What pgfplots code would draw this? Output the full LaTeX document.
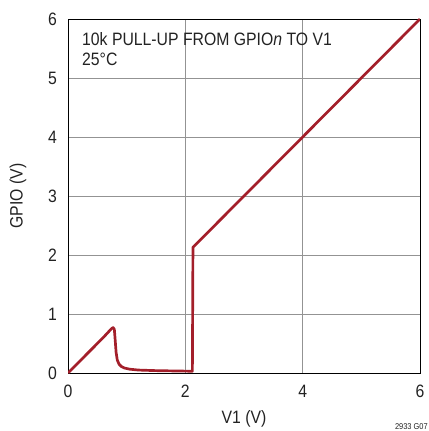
\documentclass[border=0pt]{standalone}
\usepackage{fontspec}
\setmainfont{Liberation Sans}[FakeStretch=0.88]
\usepackage{pgfplots}
\pgfplotsset{compat=1.18}
\definecolor{curve}{HTML}{A31F2A}
\definecolor{txt}{HTML}{222222}
\begin{document}
\begin{tikzpicture}[x=1bp,y=1bp]
\begin{axis}[
  name=ax,
  scale only axis,
  width=352bp, height=354bp,
  xmin=0, xmax=6, ymin=0, ymax=6,
  xtick={0,2,4,6}, ytick={0,1,2,3,4,5,6},
  grid=major,
  major grid style={draw=gray!85, line width=0.8pt},
  major tick length=0pt,
  axis line style={draw=black, line width=0.9pt},
  /pgf/number format/assume math mode=true,
  tick label style={font=\fontsize{18}{21}\selectfont, text=txt, inner sep=0pt},
  xticklabel style={anchor=north, yshift=-12bp},
  yticklabel style={anchor=east, xshift=-11bp},
  xlabel={V1 (V)}, ylabel={GPIO (V)},
  label style={font=\fontsize{18}{21}\selectfont, text=txt, inner sep=0pt},
  xlabel style={at={(axis description cs:0.5,-0.144)}, anchor=base},
  ylabel style={at={(axis description cs:-0.142,0.5)}, anchor=center},
]
\addplot[curve, line width=2.7pt, line join=round] coordinates {
(0,0) (0.2,0.2) (0.4,0.4) (0.6,0.6) (0.74,0.75) (0.77,0.77) (0.79,0.74)
(0.805,0.55) (0.82,0.35) (0.84,0.22) (0.87,0.15) (0.91,0.11) (0.96,0.085)
(1.05,0.065) (1.2,0.05) (1.5,0.04) (1.8,0.035) (2.12,0.03)
(2.13,2.13) (6,6)
};
\node[anchor=north west, align=left, inner sep=0pt, font=\fontsize{18}{20}\selectfont, text=txt]
  at (rel axis cs:0,1) [xshift=14bp, yshift=-13bp] {10k PULL-UP FROM GPIO\textit{n} TO V1\\25°C};
\end{axis}
\node[anchor=base east, font=\fontsize{8.5}{9}\selectfont, text=txt, inner sep=0pt] at ([xshift=8bp, yshift=-56bp]ax.south east) {2933 G07};
\pgfresetboundingbox
\path ([xshift=-68bp, yshift=-58bp]ax.south west) rectangle ([xshift=9bp, yshift=19bp]ax.north east);
\end{tikzpicture}
\end{document}
